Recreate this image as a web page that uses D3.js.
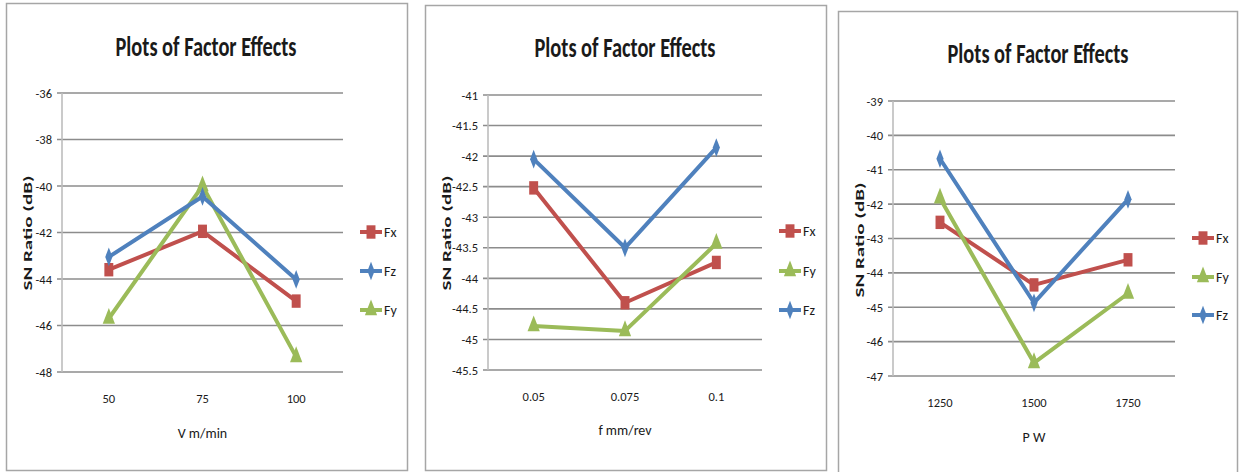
<!DOCTYPE html>
<html><head><meta charset="utf-8">
<script src="https://cdn.jsdelivr.net/npm/d3@7"></script>
<style>
html,body{margin:0;padding:0;background:#fff;}
svg{display:block;}
text{font-family:"Liberation Sans Narrow","Arial Narrow",Carlito,sans-serif;fill:#1a1a1a;}
</style></head>
<body>
<svg id="chart" width="1239" height="472"></svg>
<script>
// ---------- data ----------
const seriesNames = ["Fx", "Fy", "Fz"];
const chartTitle = "Plots of Factor Effects";
const yAxisTitle = "SN Ratio  (dB)";

const speedCategories = ["50", "75", "100"];
const speedFx = [-43.6, -41.95, -44.95];
const speedFz = [-43.05, -40.45, -44.02];
const speedFy = [-45.7, -40.0, -47.35];
const speedTicks = [-36, -38, -40, -42, -44, -46, -48];
const speedLegendOrder = ["Fx", "Fz", "Fy"];

const feedCategories = ["0.05", "0.075", "0.1"];
const feedFx = [-42.52, -44.4, -43.74];
const feedFy = [-44.78, -44.86, -43.43];
const feedFz = [-42.05, -43.5, -41.86];
const feedTicks = [-41, -41.5, -42, -42.5, -43, -43.5, -44, -44.5, -45, -45.5];
const feedLegendOrder = ["Fx", "Fy", "Fz"];

const powerCategories = ["1250", "1500", "1750"];
const powerFx = [-42.53, -44.35, -43.62];
const powerFy = [-41.83, -46.62, -44.6];
const powerFz = [-40.68, -44.87, -41.86];
const powerTicks = [-39, -40, -41, -42, -43, -44, -45, -46, -47];
const powerLegendOrder = ["Fx", "Fy", "Fz"];

const xAxisTitles = ["V m/min", "f mm/rev", "P W"];

// ---------- style ----------
const colors = {Fx: "#C0504D", Fy: "#9BBB59", Fz: "#4F81BD"};
const symbols = {Fx: d3.symbolSquare, Fy: d3.symbolTriangle, Fz: d3.symbolDiamond};
const symSize = {Fx: 80, Fy: 65, Fz: 45};

// ---------- layout ----------
const panels = [
  {cats: speedCategories, data: {Fx: speedFx, Fy: speedFy, Fz: speedFz}, ticks: speedTicks,
   legend: speedLegendOrder, xTitle: xAxisTitles[0],
   border: {x: 6, y: 3, w: 401, h: 467},
   plot: {left: 62, right: 343, top: 93, bottom: 372},
   title: {cx: 206, y: 56}, xlabY: 404, xTitleY: 438, yTitle: {x: 32, cy: 233},
   legendX: 360, legendY: [232, 271, 310]},
  {cats: feedCategories, data: {Fx: feedFx, Fy: feedFy, Fz: feedFz}, ticks: feedTicks,
   legend: feedLegendOrder, xTitle: xAxisTitles[1],
   border: {x: 425, y: 5, w: 401, h: 465},
   plot: {left: 488, right: 762, top: 95, bottom: 370},
   title: {cx: 625, y: 57}, xlabY: 402, xTitleY: 435, yTitle: {x: 451, cy: 233},
   legendX: 779, legendY: [231, 271, 310]},
  {cats: powerCategories, data: {Fx: powerFx, Fy: powerFy, Fz: powerFz}, ticks: powerTicks,
   legend: powerLegendOrder, xTitle: xAxisTitles[2],
   border: {x: 838, y: 11, w: 399, h: 480},
   plot: {left: 893, right: 1175, top: 101, bottom: 376},
   title: {cx: 1038, y: 63}, xlabY: 408, xTitleY: 442, yTitle: {x: 864, cy: 240},
   legendX: 1192, legendY: [238, 277, 315]}
];

const svg = d3.select("#chart");
svg.append("rect").attr("width", 1239).attr("height", 472).attr("fill", "#fff");

panels.forEach(p => {
  const g = svg.append("g");
  g.append("rect").attr("x", p.border.x + 0.5).attr("y", p.border.y + 0.5)
    .attr("width", p.border.w).attr("height", p.border.h)
    .attr("fill", "#fff").attr("stroke", "#A6A6A6").attr("stroke-width", 1.5);

  const x = d3.scaleBand().domain(p.cats).range([p.plot.left, p.plot.right]);
  const y = d3.scaleLinear().domain(d3.extent(p.ticks)).range([p.plot.bottom, p.plot.top]);

  // gridlines
  g.append("g").selectAll("line").data(p.ticks).join("line")
    .attr("x1", p.plot.left - 5).attr("x2", p.plot.right)
    .attr("y1", d => y(d)).attr("y2", d => y(d))
    .attr("stroke", "#8C8C8C").attr("stroke-width", 1.6);
  // y axis line
  g.append("line").attr("x1", p.plot.left).attr("x2", p.plot.left)
    .attr("y1", p.plot.top).attr("y2", p.plot.bottom)
    .attr("stroke", "#BDBDBD").attr("stroke-width", 1.6);

  // y axis labels via d3 axis
  const yAxis = d3.axisLeft(y).tickValues(p.ticks).tickSize(0).tickPadding(10).tickFormat(d => String(d));
  const ya = g.append("g").attr("transform", `translate(${p.plot.left},0)`).call(yAxis);
  ya.select(".domain").remove();
  ya.selectAll("text").attr("font-size", 12.5).attr("fill", "#1a1a1a")
    .attr("font-family", "'Liberation Sans Narrow','Arial Narrow',sans-serif");

  // x axis labels
  const xAxis = d3.axisBottom(x).tickSize(0).tickPadding(0);
  const xa = g.append("g").attr("transform", `translate(0,${p.xlabY - 10})`).call(xAxis);
  xa.select(".domain").remove();
  xa.selectAll("text").attr("font-size", 12.5).attr("fill", "#1a1a1a")
    .attr("font-family", "'Liberation Sans Narrow','Arial Narrow',sans-serif");

  // title
  g.append("text").attr("x", p.title.cx).attr("y", p.title.y).attr("text-anchor", "middle")
    .attr("font-size", 28).attr("font-weight", "bold").attr("fill", "#000")
    .attr("textLength", 181).attr("lengthAdjust", "spacingAndGlyphs").text(chartTitle);

  // x title
  g.append("text").attr("x", x(p.cats[1]) + x.bandwidth() / 2).attr("y", p.xTitleY)
    .attr("text-anchor", "middle").attr("font-size", 14).text(p.xTitle);

  // y title
  g.append("text").attr("transform", `translate(${p.yTitle.x},${p.yTitle.cy}) rotate(-90)`)
    .attr("text-anchor", "middle").attr("font-size", 12).attr("font-weight", "bold")
    .attr("font-family", "'DejaVu Sans',sans-serif").attr("fill", "#000")
    .attr("textLength", 115).attr("lengthAdjust", "spacingAndGlyphs").text(yAxisTitle);

  const cx = c => x(c) + x.bandwidth() / 2;
  const line = d3.line().x(d => cx(d.c)).y(d => y(d.v));

  seriesNames.forEach(name => {
    const pts = p.cats.map((c, i) => ({c, v: p.data[name][i]}));
    g.append("path").datum(pts).attr("d", line).attr("fill", "none")
      .attr("stroke", colors[name]).attr("stroke-width", 4).attr("stroke-linejoin", "round");
    g.append("g").selectAll("path").data(pts).join("path")
      .attr("d", d3.symbol(symbols[name], symSize[name]))
      .attr("transform", d => `translate(${cx(d.c)},${y(d.v)}) scale(1,1.5)`)
      .attr("fill", colors[name]);
  });

  // legend
  p.legend.forEach((name, i) => {
    const ly = p.legendY[i];
    const lg = g.append("g");
    lg.append("line").attr("x1", p.legendX).attr("x2", p.legendX + 22)
      .attr("y1", ly).attr("y2", ly).attr("stroke", colors[name]).attr("stroke-width", 4);
    lg.append("path").attr("d", d3.symbol(symbols[name], symSize[name]))
      .attr("transform", `translate(${p.legendX + 11},${ly}) scale(1,1.5)`).attr("fill", colors[name]);
    lg.append("text").attr("x", p.legendX + 24).attr("y", ly + 5)
      .attr("font-size", 14).text(name);
  });
});
</script>
</body></html>
